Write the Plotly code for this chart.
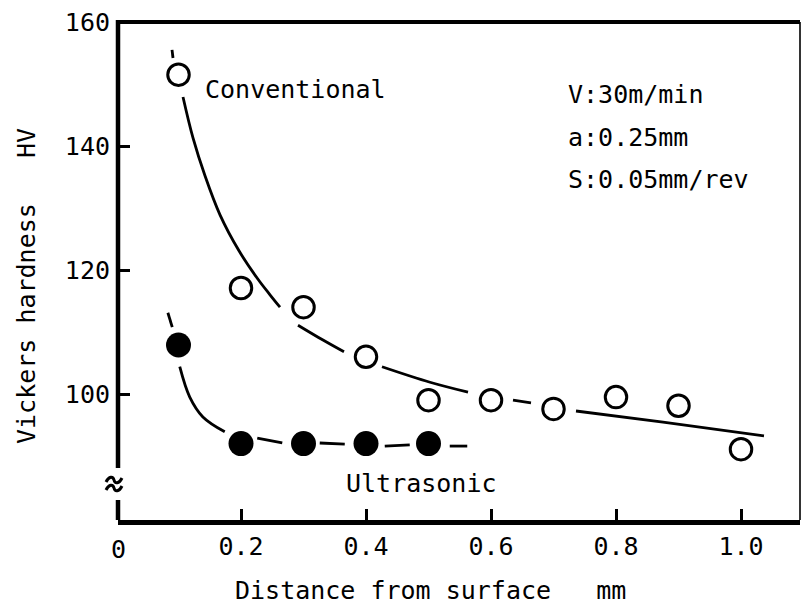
import plotly.graph_objects as go

# Measured hardness (HV) vs. distance from the machined surface (mm)
depth_conventional = [0.1, 0.2, 0.3, 0.4, 0.5, 0.6, 0.7, 0.8, 0.9, 1.0]
hv_conventional = [151.5, 117.1, 114.0, 106.0, 99.0, 99.0, 97.6, 99.5, 98.1, 91.1]

depth_ultrasonic = [0.1, 0.2, 0.3, 0.4, 0.5]
hv_ultrasonic = [107.9, 92.0, 92.0, 92.0, 92.0]

# Hand-drawn trend curves, broken into segments (None = gap in the pen stroke)
trend_conv_x = [0.0896, 0.0912, None,
                0.1072, 0.1232, 0.1424, 0.1664, 0.1968, 0.2272, 0.2464, 0.2624, None,
                0.2912, 0.3312, 0.3648, None,
                0.4256, 0.5024, 0.5632, None,
                0.6352, 0.664, None,
                0.736, 0.8752, 1.0368]
trend_conv_y = [155.5, 154.2, None,
                147.9, 141.3, 135.2, 128.9, 123.1, 118.5, 116.0, 114.0, None,
                111.1, 108.7, 106.8, None,
                104.4, 101.9, 100.3, None,
                99.0, 98.55, None,
                97.26, 95.48, 93.23]

trend_ultra_x = [0.083, 0.090, None,
                 0.102, 0.118, 0.139, 0.174, None,
                 0.226, 0.266, None,
                 0.326, 0.366, None,
                 0.430, 0.470, None,
                 0.534, 0.562]
trend_ultra_y = [113.1, 110.8, None,
                 104.4, 99.5, 96.3, 93.9, None,
                 92.9, 92.1, None,
                 92.1, 91.9, None,
                 91.6, 91.8, None,
                 91.6, 91.6]

x_tickvals = [0.2, 0.4, 0.6, 0.8, 1.0]
x_ticktext = ["0.2", "0.4", "0.6", "0.8", "1.0"]
y_tickvals = [100, 120, 140, 160]
y_ticktext = ["100", "120", "140", "160"]

FONT = "DejaVu Sans Mono"
FS = 25
INK = "black"

W, H = 802, 608
ML, MR, MT, MB = 118, 2, 22, 88
PW, PH = W - ML - MR, H - MT - MB

# pixel scale of the data axes: x = 0 sits just left of the axis line
X0_PX, X_PX_PER_UNIT = 116, 625
Y_PX_PER_UNIT = 6.2


def paper_x(px):
    return (px - ML) / PW


def paper_y(py):
    return (H - MB - py) / PH


fig = go.Figure()

fig.add_trace(go.Scatter(x=trend_conv_x, y=trend_conv_y, mode="lines",
                         line=dict(color=INK, width=2.8, shape="spline"),
                         connectgaps=False, hoverinfo="skip"))
fig.add_trace(go.Scatter(x=trend_ultra_x, y=trend_ultra_y, mode="lines",
                         line=dict(color=INK, width=2.8, shape="spline"),
                         connectgaps=False, hoverinfo="skip"))

fig.add_trace(go.Scatter(x=depth_conventional, y=hv_conventional, mode="markers",
                         name="Conventional",
                         marker=dict(symbol="circle-open", size=21.5,
                                     color=INK, line=dict(width=3, color=INK))))
fig.add_trace(go.Scatter(x=depth_ultrasonic, y=hv_ultrasonic, mode="markers",
                         name="Ultrasonic",
                         marker=dict(symbol="circle", size=25, color=INK,
                                     line=dict(width=0))))

shapes = []
# frame: thick top and left edges, thin right edge
shapes.append(dict(type="line", xref="paper", yref="paper",
                   x0=paper_x(116), x1=1.0, y0=1, y1=1,
                   line=dict(color=INK, width=4)))
shapes.append(dict(type="line", xref="paper", yref="paper",
                   x0=1.0, x1=1.0, y0=0, y1=1,
                   line=dict(color=INK, width=1.6)))
# left axis, interrupted by the break mark
shapes.append(dict(type="line", xref="paper", yref="paper",
                   x0=0, x1=0, y0=paper_y(468), y1=paper_y(20),
                   line=dict(color=INK, width=4.5)))
shapes.append(dict(type="line", xref="paper", yref="paper",
                   x0=0, x1=0, y0=0, y1=paper_y(500),
                   line=dict(color=INK, width=4.5)))


def squiggle(py):
    pts = [(106, py + 2), (109, py - 4), (113, py - 4), (114, py),
           (115, py + 4), (119, py + 4), (122, py - 2)]
    p = [(paper_x(a), paper_y(b)) for a, b in pts]
    return ("M {0[0]},{0[1]} C {1[0]},{1[1]} {2[0]},{2[1]} {3[0]},{3[1]} "
            "C {4[0]},{4[1]} {5[0]},{5[1]} {6[0]},{6[1]}").format(*p)


for py in (480, 488):
    shapes.append(dict(type="path", xref="paper", yref="paper", path=squiggle(py),
                       line=dict(color=INK, width=3)))

annotations = []


def text(s, px, py, xanchor="left", angle=0):
    annotations.append(dict(text=s, xref="paper", yref="paper",
                            x=paper_x(px), y=paper_y(py),
                            xanchor=xanchor, yanchor="middle",
                            textangle=angle, showarrow=False,
                            font=dict(family=FONT, size=FS, color=INK)))


NB = "\u00a0"
text("Conventional", 203, 89)
text("Ultrasonic", 344, 483)
text("V:30m/min", 566, 94)
text("a:0.25mm", 566, 137)
text("S:0.05mm/rev", 566, 180)
text("0", 118, 549, xanchor="center")
text("Distance from surface" + NB * 3 + "mm", 233, 590)
text("Vickers hardness" + NB * 3 + "HV", 27, 286, xanchor="center", angle=-90)

fig.update_layout(
    width=W, height=H,
    margin=dict(l=ML, r=MR, t=MT, b=MB, pad=0),
    paper_bgcolor="white", plot_bgcolor="white",
    showlegend=False,
    shapes=shapes, annotations=annotations,
    font=dict(family=FONT, size=FS, color=INK),
    xaxis=dict(range=[(ML - X0_PX) / X_PX_PER_UNIT,
                      (W - MR - X0_PX) / X_PX_PER_UNIT],
               showgrid=False, zeroline=False,
               showline=True, linewidth=4.5, linecolor=INK, mirror=False,
               ticks="inside", ticklen=11, tickwidth=3, tickcolor=INK,
               tickvals=x_tickvals, ticktext=x_ticktext,
               tickfont=dict(family=FONT, size=FS, color=INK)),
    yaxis=dict(range=[160 - PH / Y_PX_PER_UNIT, 160],
               showgrid=False, zeroline=False, showline=False,
               ticks="inside", ticklen=12, tickwidth=3, tickcolor=INK,
               ticklabelstandoff=7,
               tickvals=y_tickvals, ticktext=y_ticktext,
               tickfont=dict(family=FONT, size=FS, color=INK)),
)

fig.write_html("out.html")
